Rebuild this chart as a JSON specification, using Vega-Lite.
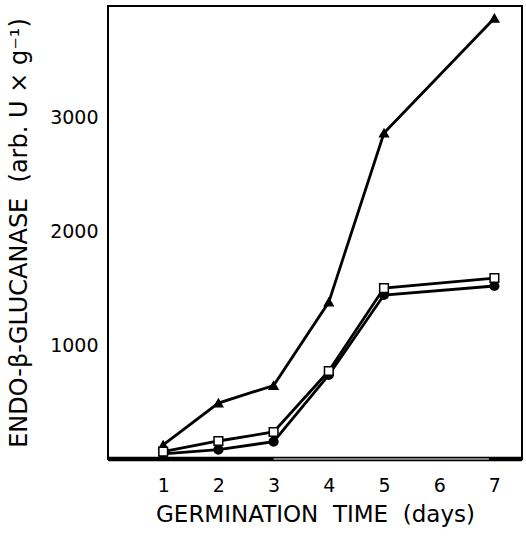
{
  "$schema": "https://vega.github.io/schema/vega-lite/v6.json",
  "width": 414,
  "height": 453,
  "autosize": {"type": "none"},
  "padding": {"left": 108, "top": 6, "right": 4, "bottom": 81},
  "background": "white",
  "config": {
    "view": {"stroke": "black", "strokeWidth": 2},
    "font": "DejaVu Sans"
  },
  "datasets": {
    "series": [
      {"series": "triangle", "day": 1, "value": 123},
      {"series": "triangle", "day": 2, "value": 491},
      {"series": "triangle", "day": 3, "value": 645},
      {"series": "triangle", "day": 4, "value": 1377},
      {"series": "triangle", "day": 5, "value": 2860},
      {"series": "triangle", "day": 7, "value": 3868},
      {"series": "circle", "day": 1, "value": 45},
      {"series": "circle", "day": 2, "value": 82},
      {"series": "circle", "day": 3, "value": 152},
      {"series": "circle", "day": 4, "value": 737},
      {"series": "circle", "day": 5, "value": 1439},
      {"series": "circle", "day": 7, "value": 1518},
      {"series": "square", "day": 1, "value": 65},
      {"series": "square", "day": 2, "value": 158},
      {"series": "square", "day": 3, "value": 237},
      {"series": "square", "day": 4, "value": 772},
      {"series": "square", "day": 5, "value": 1500},
      {"series": "square", "day": 7, "value": 1588}
    ],
    "baseDark": [
      {"day": 0, "value": 0},
      {"day": 7.5, "value": 0}
    ],
    "baseLight": [
      {"day": 3, "value": 0},
      {"day": 6.9, "value": 0}
    ],
    "xticks": [{"day": 1}, {"day": 2}, {"day": 3}, {"day": 4}, {"day": 5}, {"day": 6}, {"day": 7}],
    "yticks": [{"value": 1000}, {"value": 2000}, {"value": 3000}]
  },
  "encoding": {
    "x": {
      "field": "day",
      "type": "quantitative",
      "scale": {"domain": [0, 7.5], "nice": false, "zero": false},
      "axis": {
        "values": [1, 2, 3, 4, 5, 6, 7],
        "title": "GERMINATION\u00a0 TIME\u00a0 (days)",
        "grid": false,
        "domain": false,
        "ticks": false,
        "labelPadding": 17,
        "labelFontSize": 19,
        "labelColor": "black",
        "titleFontSize": 23,
        "titleFontWeight": "normal",
        "titleColor": "black",
        "titlePadding": 8
      }
    },
    "y": {
      "field": "value",
      "type": "quantitative",
      "scale": {"domain": [0, 3975], "nice": false},
      "axis": {
        "values": [1000, 2000, 3000],
        "format": "d",
        "title": "ENDO-β-GLUCANASE\u00a0 (arb. U × g⁻¹)",
        "grid": false,
        "domain": false,
        "ticks": false,
        "labelPadding": 10,
        "labelFontSize": 19,
        "labelColor": "black",
        "titleFontSize": 24,
        "titleFontWeight": "normal",
        "titleColor": "black",
        "titlePadding": 18
      }
    }
  },
  "layer": [
    {
      "data": {"name": "xticks"},
      "mark": {"type": "rule", "color": "black", "strokeWidth": 2},
      "encoding": {"y": {"datum": 0}, "y2": {"datum": 75}}
    },
    {
      "data": {"name": "yticks"},
      "mark": {"type": "rule", "color": "black", "strokeWidth": 2},
      "encoding": {"x": {"datum": 0}, "x2": {"datum": 0.11}}
    },
    {
      "data": {"name": "baseDark"},
      "mark": {"type": "line", "color": "black", "strokeWidth": 4.5}
    },
    {
      "data": {"name": "baseLight"},
      "mark": {"type": "line", "color": "white", "strokeWidth": 1.2}
    },
    {
      "data": {"name": "series"},
      "mark": {"type": "line", "color": "black", "strokeWidth": 2.8},
      "encoding": {"detail": {"field": "series", "type": "nominal"}}
    },
    {
      "data": {"name": "series"},
      "mark": {"type": "point", "filled": true, "opacity": 1, "stroke": "black", "strokeWidth": 1.5},
      "encoding": {
        "shape": {
          "field": "series",
          "type": "nominal",
          "scale": {"domain": ["triangle", "square", "circle"], "range": ["triangle-up", "square", "circle"]},
          "legend": null
        },
        "fill": {
          "field": "series",
          "type": "nominal",
          "scale": {"domain": ["triangle", "square", "circle"], "range": ["black", "white", "black"]},
          "legend": null
        },
        "size": {"value": 75}
      }
    }
  ]
}
